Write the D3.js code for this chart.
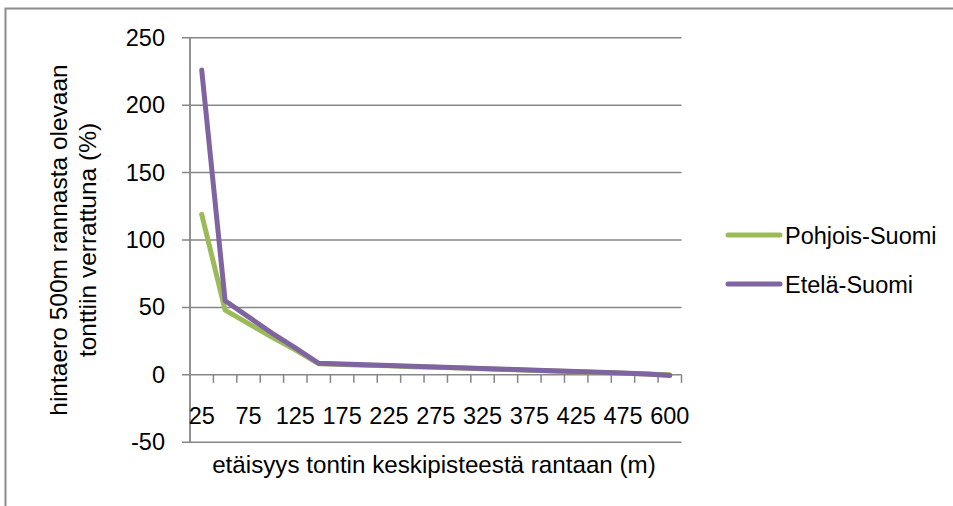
<!DOCTYPE html>
<html>
<head>
<meta charset="utf-8">
<script src="https://cdn.jsdelivr.net/npm/d3@7"></script>
<style>
  html, body { margin: 0; padding: 0; background: #fff; }
  svg { display: block; }
  text { font-family: "Liberation Sans", Arial, sans-serif; fill: #000; }
</style>
</head>
<body>
<svg id="chart" width="953" height="506"></svg>
<script>
// Distance from the plot centre to the shore (m)
const distances = ["25","50","75","100","125","150","175","200","225","250","275","300","325","350","375","400","425","450","475","500","600"];
// Price difference compared to a plot 500 m from the shore (%)
const pohjoisSuomi = [119, 48, 38, 28, 18.5, 8.2, 7.7, 7.2, 6.7, 6.1, 5.6, 5.1, 4.5, 4.0, 3.4, 2.9, 2.3, 1.8, 1.2, 0.6, 0];
const etelaSuomi   = [226, 55, 43, 31, 20, 8.6, 8.0, 7.5, 7.0, 6.4, 5.8, 5.3, 4.7, 4.2, 3.6, 3.0, 2.5, 1.9, 1.3, 0.6, -0.5];
const yTicks = [-50, 0, 50, 100, 150, 200, 250];
const xLabelEvery = ["25","75","125","175","225","275","325","375","425","475","600"];
const seriesNames = ["Pohjois-Suomi", "Etelä-Suomi"];
const seriesColors = ["#9BBB59", "#8064A2"];

const svg = d3.select("#chart");
const gridColor = "#878787";

// outer chart frame
svg.append("rect")
  .attr("x", 5.5).attr("y", 8.5)
  .attr("width", 1000).attr("height", 600)
  .attr("fill", "none").attr("stroke", "#8c8c8c").attr("stroke-width", 2);

const plot = { left: 190, right: 681.5, top: 37.7, bottom: 442.3 };

const x = d3.scaleBand().domain(distances).range([plot.left, plot.right]).padding(0);
const y = d3.scaleLinear().domain([-50, 250]).range([plot.bottom, plot.top]);

// horizontal gridlines (extending left as tick marks)
svg.append("g").selectAll("line").data(yTicks).join("line")
  .attr("x1", plot.left - 8).attr("x2", plot.right)
  .attr("y1", d => y(d)).attr("y2", d => y(d))
  .attr("stroke", gridColor).attr("stroke-width", 1.5);

// y axis line
svg.append("line")
  .attr("x1", plot.left).attr("x2", plot.left)
  .attr("y1", plot.top).attr("y2", plot.bottom)
  .attr("stroke", gridColor).attr("stroke-width", 1.8);

// x axis placed at y = 0 with downward ticks on category boundaries
const xAxis = d3.axisBottom(x)
  .tickSize(0)
  .tickFormat(() => "");
const xg = svg.append("g").attr("transform", `translate(0,${y(0)})`).call(xAxis);
xg.select(".domain").remove();
const boundaries = distances.map(d => x(d) + x.bandwidth());
xg.selectAll(".bound").data(boundaries).join("line")
  .attr("class", "bound")
  .attr("x1", d => d).attr("x2", d => d)
  .attr("y1", 0).attr("y2", 8)
  .attr("stroke", gridColor).attr("stroke-width", 1.5);

// y tick labels
svg.append("g").selectAll("text").data(yTicks).join("text")
  .attr("x", 165).attr("y", d => y(d) + 8)
  .attr("text-anchor", "end")
  .attr("font-size", 23.5)
  .text(d => d);

// x tick labels (every other category)
svg.append("g").selectAll("text").data(xLabelEvery).join("text")
  .attr("x", d => x(d) + x.bandwidth() / 2)
  .attr("y", 424)
  .attr("text-anchor", "middle")
  .attr("font-size", 23.5)
  .text(d => d);

// axis titles
svg.append("text")
  .attr("x", 434).attr("y", 473)
  .attr("text-anchor", "middle")
  .attr("font-size", 24.2)
  .text("etäisyys tontin keskipisteestä rantaan (m)");

const yTitle = svg.append("text")
  .attr("transform", "translate(0,240) rotate(-90)")
  .attr("text-anchor", "middle")
  .attr("font-size", 24.5);
yTitle.append("tspan").attr("x", 0).attr("y", 67).text("hintaero 500m rannasta olevaan");
yTitle.append("tspan").attr("x", 0).attr("y", 96).text("tonttiin verrattuna (%)");

// series lines
const line = d3.line()
  .x((d, i) => x(distances[i]) + x.bandwidth() / 2)
  .y(d => y(d));

[pohjoisSuomi, etelaSuomi].forEach((vals, k) => {
  svg.append("path")
    .datum(vals)
    .attr("d", line)
    .attr("fill", "none")
    .attr("stroke", seriesColors[k])
    .attr("stroke-width", 5)
    .attr("stroke-linejoin", "round")
    .attr("stroke-linecap", "round");
});

// legend
const legendY = [235, 284];
const lg = svg.append("g");
seriesNames.forEach((name, k) => {
  lg.append("line")
    .attr("x1", 728).attr("x2", 780)
    .attr("y1", legendY[k]).attr("y2", legendY[k])
    .attr("stroke", seriesColors[k]).attr("stroke-width", 5)
    .attr("stroke-linecap", "round");
  lg.append("text")
    .attr("x", 785).attr("y", legendY[k] + 9)
    .attr("font-size", 23.5)
    .text(name);
});
</script>
</body>
</html>
